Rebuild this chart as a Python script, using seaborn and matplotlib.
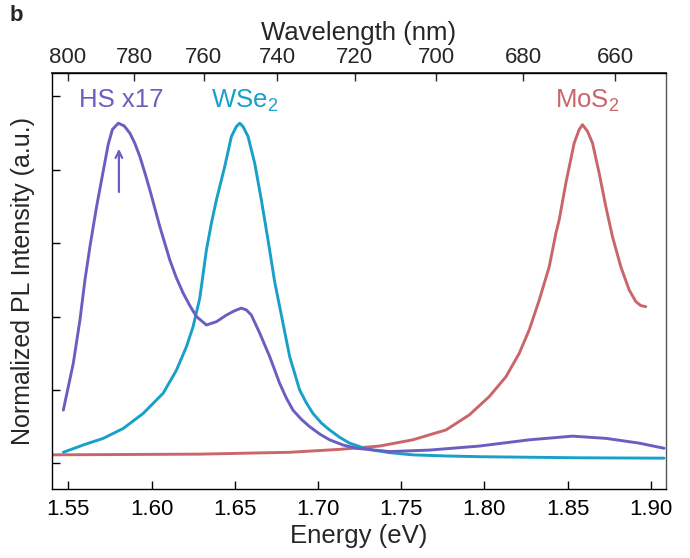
import numpy as np
import pandas as pd
import matplotlib
matplotlib.use("Agg")
import matplotlib.pyplot as plt
import seaborn as sns

# -----------------------------
# DATA
# -----------------------------

hs_energy = [1.547, 1.553, 1.557, 1.560, 1.563, 1.567, 1.570, 1.574, 1.5765, 1.580,
             1.5835, 1.587, 1.590, 1.593, 1.596, 1.599, 1.605, 1.611, 1.615, 1.619,
             1.623, 1.627, 1.633, 1.639, 1.645, 1.650, 1.654, 1.657, 1.660, 1.665,
             1.671, 1.677, 1.681, 1.685, 1.690, 1.695, 1.701, 1.707, 1.715, 1.723,
             1.743, 1.767, 1.797, 1.827, 1.853, 1.873, 1.893, 1.908]
hs_intensity = [0.145, 0.273, 0.391, 0.500, 0.591, 0.700, 0.773, 0.870, 0.910, 0.927,
                0.920, 0.900, 0.872, 0.836, 0.792, 0.745, 0.645, 0.554, 0.505, 0.464,
                0.430, 0.400, 0.377, 0.386, 0.404, 0.416, 0.423, 0.418, 0.404, 0.355,
                0.291, 0.218, 0.178, 0.145, 0.120, 0.100, 0.080, 0.064, 0.050, 0.041,
                0.032, 0.036, 0.047, 0.064, 0.074, 0.068, 0.055, 0.041]

wse2_energy = [1.547, 1.559, 1.571, 1.583, 1.595, 1.607, 1.615, 1.621, 1.625, 1.629,
               1.633, 1.636, 1.639, 1.644, 1.648, 1.651, 1.653, 1.655, 1.658, 1.662,
               1.666, 1.670, 1.674, 1.679, 1.683, 1.689, 1.693, 1.697, 1.702, 1.707,
               1.713, 1.719, 1.726, 1.733, 1.743, 1.757, 1.777, 1.797, 1.857, 1.908]
wse2_intensity = [0.030, 0.050, 0.068, 0.095, 0.136, 0.191, 0.254, 0.318, 0.373, 0.450,
                  0.582, 0.655, 0.718, 0.809, 0.891, 0.918, 0.927, 0.918, 0.891, 0.818,
                  0.718, 0.609, 0.495, 0.382, 0.291, 0.200, 0.165, 0.136, 0.110, 0.091,
                  0.071, 0.055, 0.044, 0.036, 0.029, 0.023, 0.020, 0.018, 0.015, 0.014]

mos2_energy = [1.539, 1.629, 1.683, 1.713, 1.737, 1.757, 1.777, 1.791, 1.803, 1.813,
               1.821, 1.827, 1.833, 1.839, 1.843, 1.845, 1.849, 1.854, 1.857, 1.859,
               1.862, 1.865, 1.869, 1.873, 1.877, 1.882, 1.887, 1.891, 1.894, 1.897]
mos2_intensity = [0.023, 0.025, 0.030, 0.038, 0.047, 0.064, 0.091, 0.132, 0.182, 0.236,
                  0.300, 0.364, 0.445, 0.536, 0.627, 0.664, 0.764, 0.873, 0.910, 0.923,
                  0.905, 0.873, 0.791, 0.700, 0.618, 0.536, 0.473, 0.441, 0.430, 0.427]

wavelength_ticks = [800, 780, 760, 740, 720, 700, 680, 660]
energy_ticks = [1.55, 1.60, 1.65, 1.70, 1.75, 1.80, 1.85, 1.90]
intensity_ticks = [0.0, 0.2, 0.4, 0.6, 0.8, 1.0]

HS_COLOR = "#6a5fc1"
WSE2_COLOR = "#18a0c9"
MOS2_COLOR = "#c9666b"

# -----------------------------
# STYLE
# -----------------------------

sns.set_theme(style="white")
plt.rcParams["font.family"] = ["Liberation Sans", "DejaVu Sans"]
plt.rcParams["mathtext.fontset"] = "custom"
plt.rcParams["mathtext.rm"] = "Liberation Sans"

fig = plt.figure(figsize=(6.9, 5.58), dpi=100)
ax = fig.add_axes([0.0749, 0.1237, 0.8899, 0.7455])

for e, i, c in [(mos2_energy, mos2_intensity, MOS2_COLOR),
                (wse2_energy, wse2_intensity, WSE2_COLOR),
                (hs_energy, hs_intensity, HS_COLOR)]:
    df = pd.DataFrame({"Energy": e, "Intensity": i})
    sns.lineplot(data=df, x="Energy", y="Intensity", color=c, lw=2.1, ax=ax)

ax.set_xlim(1.540, 1.909)
ax.set_ylim(-0.070, 1.064)
ax.set_xticks(energy_ticks)
ax.set_xticklabels([f"{t:.2f}" for t in energy_ticks])
ax.set_yticks(intensity_ticks)
ax.set_yticklabels([])
ax.tick_params(axis="both", direction="in", length=5.5, width=1, colors="black",
               labelsize=16, pad=7, bottom=True, left=True)
ax.set_xlabel("Energy (eV)", fontsize=18.5, labelpad=3)
ax.set_ylabel("Normalized PL Intensity (a.u.)", fontsize=18, labelpad=5)

for side in ["left", "bottom", "top"]:
    ax.spines[side].set_color("black")
    ax.spines[side].set_linewidth(1.0)
ax.spines["right"].set_color("#555555")
ax.spines["right"].set_linewidth(1.0)

# top wavelength axis
top = ax.secondary_xaxis("top", functions=(lambda e: 1239.84 / e, lambda w: 1239.84 / w))
top.set_xticks(wavelength_ticks)
top.tick_params(direction="in", length=5.5, width=1, labelsize=16, pad=3.5)
top.set_xlabel("Wavelength (nm)", fontsize=18.5, labelpad=5)

# labels
ax.text(1.5565, 0.990, "HS x17", color=HS_COLOR, fontsize=18.5, va="center", ha="left")
ax.text(1.636, 0.988, r"WSe$_2$", color=WSE2_COLOR, fontsize=18.5, va="center", ha="left")
ax.text(1.8425, 0.988, r"MoS$_2$", color=MOS2_COLOR, fontsize=18.5, va="center", ha="left")

ax.annotate("", xy=(1.5804, 0.865), xytext=(1.5804, 0.732),
            arrowprops=dict(arrowstyle="->", color=HS_COLOR, lw=1.6, mutation_scale=12))

fig.text(0.014, 0.973, "b", fontsize=16, fontweight="bold", va="center", ha="left")

fig.savefig("out.png", dpi=100)
plt.close()
